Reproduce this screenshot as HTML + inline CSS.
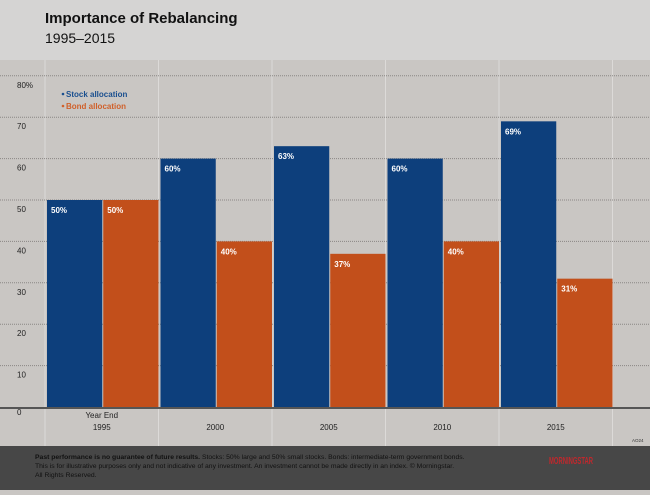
<!DOCTYPE html>
<html><head><meta charset="utf-8"><style>
body{margin:0;width:650px;height:490px;overflow:hidden;font-family:"Liberation Sans",sans-serif;background:#c9c6c3}
</style></head><body>
<svg width="650" height="490" xmlns="http://www.w3.org/2000/svg">
<rect x="0" y="0" width="650" height="60" fill="#d5d4d3"/>
<rect x="0" y="60" width="650" height="386" fill="#c9c6c3"/>
<text x="45" y="23" font-size="15" font-weight="bold" fill="#111">Importance of Rebalancing</text>
<text x="45" y="43" font-size="14" fill="#111">1995–2015</text>
<g id="grid"></g>
<g id="bars"></g>
<g id="labels"></g>
<circle cx="63" cy="94" r="1.3" fill="#1a4f8f"/>
<text x="66" y="97" font-size="8" font-weight="bold" fill="#1a4f8f">Stock allocation</text>
<circle cx="63" cy="106" r="1.3" fill="#d0602a"/>
<text x="66" y="109" font-size="8" font-weight="bold" fill="#d0602a">Bond allocation</text>
<text x="632" y="442" font-size="4.5" fill="#333">AO24</text>
<rect x="0" y="446" width="650" height="44" fill="#474747"/>
<text x="35" y="459" font-size="6.8" fill="#111"><tspan font-weight="bold">Past performance is no guarantee of future results.</tspan> Stocks: 50% large and 50% small stocks. Bonds: intermediate-term government bonds.</text>
<text x="35" y="468" font-size="6.8" fill="#111">This is for illustrative purposes only and not indicative of any investment. An investment cannot be made directly in an index. © Morningstar.</text>
<text x="35" y="477" font-size="6.8" fill="#111">All Rights Reserved.</text>
<text x="549" y="464" font-size="10" font-weight="bold" fill="#c0282d" textLength="44" lengthAdjust="spacingAndGlyphs">MORNINGSTAR</text>
</svg>
<script>
const categories=["1995","2000","2005","2010","2015"];
const stock=[50,60,63,60,69];
const bond=[50,40,37,40,31];
const yTicks=[0,10,20,30,40,50,60,70,80];
const NS="http://www.w3.org/2000/svg";
const y0=407,pxPer=4.14,x0=45,colW=113.5;
const y=v=>y0-v*pxPer;
function mk(t,a,p){const e=document.createElementNS(NS,t);for(const k in a)e.setAttribute(k,a[k]);p.appendChild(e);return e;}
const grid=document.getElementById('grid'),bars=document.getElementById('bars'),labels=document.getElementById('labels');
for(let i=0;i<=categories.length;i++){
 const l=mk('line',{x1:x0+i*colW,x2:x0+i*colW,y1:60,y2:446,stroke:'#dcdad8','stroke-width':1},grid);
 
 
}
yTicks.forEach(t=>{
 if(t>0){const l=mk('line',{x1:0,x2:650,y1:y(t),y2:y(t),stroke:'#8a8785','stroke-width':1,'stroke-dasharray':'1,1'},grid);
 
 }
 const tx=mk('text',{x:17,y:y(t)+(t===0?8:12),'font-size':8,fill:'#222'},labels);
 tx.textContent=t===80?t+'%':t;
 
 
});
categories.forEach((c,i)=>{
 const bx=x0+i*colW+2,bw=(colW-3)/2;
 const s=mk('rect',{x:bx,y:y(stock[i]),width:bw,height:stock[i]*pxPer,fill:'#0d3f7c'},bars);
 
 
 const b=mk('rect',{x:bx+bw+1,y:y(bond[i]),width:bw,height:bond[i]*pxPer,fill:'#c24f1b'},bars);
 
 
 const sl=mk('text',{x:bx+4,y:y(stock[i])+13,'font-size':8,'font-weight':'bold',fill:'#fff'},labels);
 sl.textContent=stock[i]+'%';
 
 
 const bl=mk('text',{x:bx+bw+5,y:y(bond[i])+13,'font-size':8,'font-weight':'bold',fill:'#fff'},labels);
 bl.textContent=bond[i]+'%';
 
 
 const cx=x0+i*colW+colW/2;
 const cl=mk('text',{x:cx,y:430,'font-size':8,fill:'#222','text-anchor':'middle'},labels);
 cl.textContent=c;
 
 
 if(i===0){const ye=mk('text',{x:cx,y:418,'font-size':8,fill:'#222','text-anchor':'middle'},labels);ye.textContent='Year End';
 
 }
});
const ax=mk('line',{x1:0,x2:650,y1:y0+1,y2:y0+1,stroke:'#555','stroke-width':2},grid.parentNode);


</script>
</body></html>
